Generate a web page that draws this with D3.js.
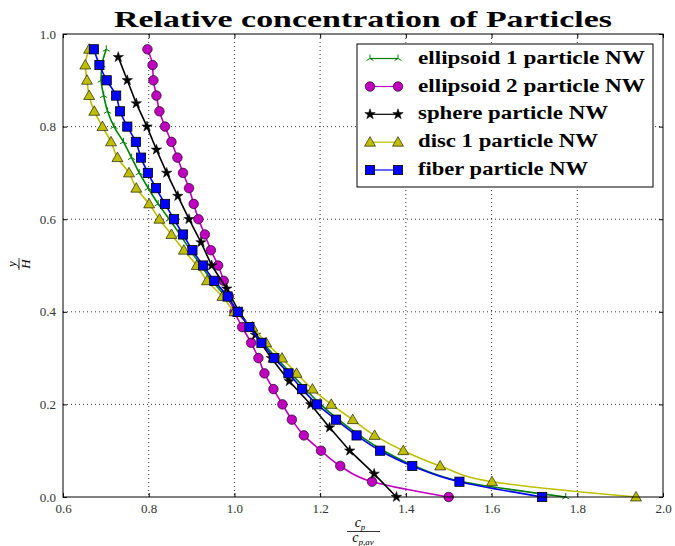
<!DOCTYPE html>
<html>
<head>
<meta charset="utf-8">
<script src="https://cdn.jsdelivr.net/npm/d3@7"></script>
<style>
  body { margin: 0; background: #fff; }
  svg { display: block; }
</style>
</head>
<body>
<svg id="chart" width="675" height="546"></svg>
<script>
// y/H levels shared by the particle series (bottom to top)
var yLevels = [0, 0.033, 0.067, 0.1, 0.133, 0.167, 0.2, 0.233, 0.267, 0.3,
               0.333, 0.367, 0.4, 0.433, 0.467, 0.5, 0.533, 0.567, 0.6, 0.633,
               0.667, 0.7, 0.733, 0.767, 0.8, 0.833, 0.867, 0.9, 0.933, 0.967];
// sphere uses coarser levels
var ySphere = [0, 0.05, 0.1, 0.15, 0.2, 0.25, 0.3, 0.35, 0.4, 0.45,
               0.5, 0.55, 0.6, 0.65, 0.7, 0.75, 0.8, 0.85, 0.9, 0.95];

var ellipsoid1 = [1.773, 1.532, 1.420, 1.348, 1.292, 1.243, 1.201, 1.166, 1.132, 1.098,
                  1.067, 1.037, 1.007, 0.979, 0.948, 0.922, 0.897, 0.873, 0.848, 0.822,
                  0.799, 0.778, 0.760, 0.741, 0.719, 0.704, 0.695, 0.689, 0.691, 0.701];
var ellipsoid2 = [1.500, 1.321, 1.247, 1.202, 1.162, 1.134, 1.112, 1.091, 1.070, 1.056,
                  1.039, 1.018, 1.000, 0.987, 0.975, 0.962, 0.945, 0.931, 0.916, 0.905,
                  0.894, 0.880, 0.867, 0.853, 0.838, 0.825, 0.818, 0.811, 0.809, 0.797];
var sphere = [1.378, 1.326, 1.269, 1.222, 1.178, 1.128, 1.086, 1.049, 1.011, 0.982,
              0.947, 0.922, 0.894, 0.868, 0.842, 0.818, 0.796, 0.771, 0.750, 0.729];
var disc1 = [1.937, 1.601, 1.480, 1.394, 1.327, 1.276, 1.226, 1.182, 1.145, 1.111,
             1.074, 1.042, 1.000, 0.972, 0.936, 0.912, 0.882, 0.853, 0.825, 0.801,
             0.771, 0.754, 0.727, 0.712, 0.692, 0.673, 0.661, 0.656, 0.652, 0.661];
var fiber = [1.718, 1.525, 1.415, 1.340, 1.285, 1.237, 1.193, 1.158, 1.126, 1.093,
             1.063, 1.035, 1.008, 0.984, 0.953, 0.927, 0.902, 0.880, 0.859, 0.838,
             0.817, 0.798, 0.782, 0.770, 0.750, 0.733, 0.724, 0.702, 0.685, 0.672];

var seriesNames = ["ellipsoid 1 particle NW", "ellipsoid 2 particle NW", "sphere particle NW",
                   "disc 1 particle NW", "fiber particle NW"];
var xTicks = [0.6, 0.8, 1.0, 1.2, 1.4, 1.6, 1.8, 2.0];
var yTicks = [0.0, 0.2, 0.4, 0.6, 0.8, 1.0];

var series = [
    { name: seriesNames[0], xs: ellipsoid1, ys: yLevels, color: "#008000", marker: "tri", smooth: true },
    { name: seriesNames[1], xs: ellipsoid2, ys: yLevels, color: "#bf00bf", marker: "circle", smooth: true },
    { name: seriesNames[2], xs: sphere, ys: ySphere, color: "#000000", marker: "star", smooth: false },
    { name: seriesNames[3], xs: disc1, ys: yLevels, color: "#bfbf00", marker: "triangle", smooth: true },
    { name: seriesNames[4], xs: fiber, ys: yLevels, color: "#0000ff", marker: "square", smooth: true }
];

var svg = d3.select("#chart");
var plotLeft = 63, plotRight = 663, plotTop = 34, plotBottom = 497;

var x = d3.scaleLinear().domain([0.6, 2.0]).range([plotLeft, plotRight]);
var y = d3.scaleLinear().domain([0, 1]).range([plotBottom, plotTop]);

var serif = "'Liberation Serif', 'DejaVu Serif', serif";

// grid
var grid = svg.append("g");
grid.selectAll(".vg").data(xTicks.slice(1, -1)).enter().append("line")
    .attr("x1", d => x(d)).attr("x2", d => x(d))
    .attr("y1", plotTop).attr("y2", plotBottom)
    .attr("stroke", "#000").attr("stroke-width", 0.8).attr("stroke-dasharray", "1,3");
grid.selectAll(".hg").data(yTicks.slice(1, -1)).enter().append("line")
    .attr("y1", d => y(d)).attr("y2", d => y(d))
    .attr("x1", plotLeft).attr("x2", plotRight)
    .attr("stroke", "#000").attr("stroke-width", 0.8).attr("stroke-dasharray", "1,3");

// axes (ticks pointing inward)
function styleAxis(g) {
    g.select(".domain").remove();
    g.selectAll(".tick line").attr("stroke", "#000");
    g.selectAll(".tick text").style("font-family", serif).style("font-size", "13px").attr("fill", "#333");
}
svg.append("g").attr("transform", "translate(0," + plotBottom + ")")
    .call(d3.axisBottom(x).tickValues(xTicks).tickFormat(d3.format(".1f")).tickSizeInner(-4).tickPadding(7))
    .call(styleAxis);
svg.append("g").attr("transform", "translate(0," + plotTop + ")")
    .call(d3.axisTop(x).tickValues(xTicks).tickFormat("").tickSizeInner(-4))
    .call(styleAxis);
svg.append("g").attr("transform", "translate(" + plotLeft + ",0)")
    .call(d3.axisLeft(y).tickValues(yTicks).tickFormat(d3.format(".1f")).tickSizeInner(-4).tickPadding(7))
    .call(styleAxis);
svg.append("g").attr("transform", "translate(" + plotRight + ",0)")
    .call(d3.axisRight(y).tickValues(yTicks).tickFormat("").tickSizeInner(-4))
    .call(styleAxis);

// marker drawing
function drawMarker(g, type, color) {
    if (type === "circle") {
        g.append("circle").attr("r", 4.8).attr("fill", color).attr("stroke", "#000").attr("stroke-width", 0.6);
    } else if (type === "square") {
        g.append("rect").attr("x", -4.6).attr("y", -4.6).attr("width", 9.2).attr("height", 9.2)
            .attr("fill", color).attr("stroke", "#000").attr("stroke-width", 0.8);
    } else if (type === "triangle") {
        g.append("path").attr("d", d3.symbol().type(d3.symbolTriangle).size(52)())
            .attr("transform", "translate(0,0.8)")
            .attr("fill", color).attr("stroke", "#000").attr("stroke-width", 0.6);
    } else if (type === "star") {
        g.append("path").attr("d", d3.symbol().type(d3.symbolStar).size(34)())
            .attr("fill", "#000").attr("stroke", "#000").attr("stroke-width", 0.5);
    } else if (type === "tri") {
        g.append("path").attr("d", "M0,0L0,-4M0,0L-3.5,2M0,0L3.5,2")
            .attr("fill", "none").attr("stroke", color).attr("stroke-width", 1);
    }
}

var lineSmooth = d3.line().x(d => x(d[0])).y(d => y(d[1])).curve(d3.curveMonotoneY);
var lineStraight = d3.line().x(d => x(d[0])).y(d => y(d[1]));

var plot = svg.append("g");
series.forEach(function(s) {
    var pts = s.xs.map((v, i) => [v, s.ys[i]]);
    plot.append("path").datum(pts)
        .attr("d", s.smooth ? lineSmooth : lineStraight)
        .attr("fill", "none").attr("stroke", s.color).attr("stroke-width", 1.6);
    plot.selectAll(null).data(pts).enter().append("g")
        .attr("transform", d => "translate(" + x(d[0]) + "," + y(d[1]) + ")")
        .each(function() { drawMarker(d3.select(this), s.marker, s.color); });
});

// frame
svg.append("rect").attr("x", plotLeft).attr("y", plotTop)
    .attr("width", plotRight - plotLeft).attr("height", plotBottom - plotTop)
    .attr("fill", "none").attr("stroke", "#000").attr("stroke-width", 1);

// title
svg.append("text")
    .attr("x", (plotLeft + plotRight) / 2).attr("y", 27)
    .attr("text-anchor", "middle")
    .style("font-family", serif).style("font-weight", "bold").style("font-size", "23px")
    .attr("textLength", 498).attr("lengthAdjust", "spacingAndGlyphs")
    .text("Relative concentration of Particles");

// legend
var legend = svg.append("g");
legend.append("rect").attr("x", 357).attr("y", 44).attr("width", 296).attr("height", 143)
    .attr("fill", "#fff").attr("stroke", "#000").attr("stroke-width", 1);
var legendY = [58.5, 86.5, 114.3, 142.2, 170];
var legendW = [227, 227, 190, 180, 170];
series.forEach(function(s, i) {
    var ly = legendY[i];
    legend.append("line").attr("x1", 370).attr("x2", 398).attr("y1", ly).attr("y2", ly)
        .attr("stroke", s.color).attr("stroke-width", 1.2);
    [370, 398].forEach(function(mx) {
        drawMarker(legend.append("g").attr("transform", "translate(" + mx + "," + ly + ")"), s.marker, s.color);
    });
    legend.append("text").attr("x", 418).attr("y", ly + 5)
        .style("font-family", serif).style("font-weight", "bold").style("font-size", "18px")
        .attr("textLength", legendW[i]).attr("lengthAdjust", "spacingAndGlyphs")
        .text(s.name);
});

// x label: c_p / c_{p,av}
var xl = svg.append("g").attr("transform", "translate(" + ((plotLeft + plotRight) / 2) + ",0)");
var num = xl.append("text").attr("x", -3).attr("y", 527).attr("text-anchor", "middle")
    .style("font-family", serif).style("font-style", "italic").style("font-size", "14px");
num.append("tspan").text("c");
num.append("tspan").attr("dy", 3).style("font-size", "9px").text("p");
xl.append("line").attr("x1", -16).attr("x2", 17).attr("y1", 531.5).attr("y2", 531.5)
    .attr("stroke", "#000").attr("stroke-width", 0.8);
var den = xl.append("text").attr("x", 0).attr("y", 542).attr("text-anchor", "middle")
    .style("font-family", serif).style("font-style", "italic").style("font-size", "14px");
den.append("tspan").text("c");
den.append("tspan").attr("dy", 3).style("font-size", "9px").text("p,av");

// y label: y / H
var yl = svg.append("g").attr("transform", "translate(19,264) rotate(-90)");
yl.append("text").attr("x", 0).attr("y", -3).attr("text-anchor", "middle")
    .style("font-family", serif).style("font-style", "italic").style("font-size", "13px").text("y");
yl.append("line").attr("x1", -6).attr("x2", 6).attr("y1", 0).attr("y2", 0)
    .attr("stroke", "#000").attr("stroke-width", 0.8);
yl.append("text").attr("x", 0).attr("y", 11).attr("text-anchor", "middle")
    .style("font-family", serif).style("font-style", "italic").style("font-size", "13px").text("H");
</script>
</body>
</html>
